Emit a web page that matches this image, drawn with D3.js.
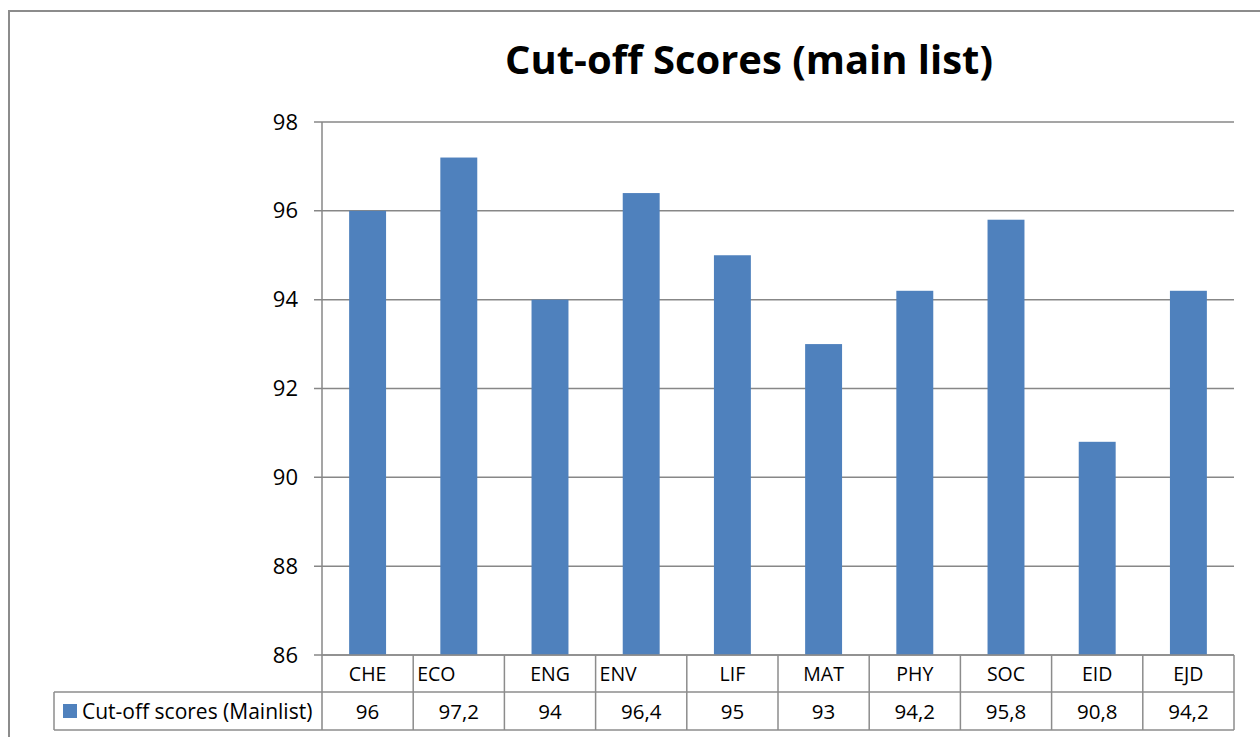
<!DOCTYPE html>
<html>
<head>
<meta charset="utf-8">
<script src="https://cdn.jsdelivr.net/npm/d3@7"></script>
<style>
  html, body { margin: 0; padding: 0; background: #fff; }
  svg { display: block; }
  text { font-family: "Open Sans", "DejaVu Sans", sans-serif; fill: #000; }
</style>
</head>
<body>
<svg id="chart" width="1260" height="737"></svg>
<script>
const categories = ["CHE", "ECO", "ENG", "ENV", "LIF", "MAT", "PHY", "SOC", "EID", "EJD"];
const values = [96, 97.2, 94, 96.4, 95, 93, 94.2, 95.8, 90.8, 94.2];
const valueLabels = ["96", "97,2", "94", "96,4", "95", "93", "94,2", "95,8", "90,8", "94,2"];
const yTicks = [86, 88, 90, 92, 94, 96, 98];
const seriesName = "Cut-off scores (Mainlist)";
const titleText = "Cut-off Scores (main list)";
const leftAlignedLabels = ["ECO", "ENV"];

const svg = d3.select("#chart");
const gridColor = "#878787";
const borderColor = "#8c8c8c";
const barColor = "#4F81BD";

const plotLeft = 322, plotRight = 1234, plotTop = 122, plotBottom = 655;
const row1Bottom = 692, row2Bottom = 730, tableLeft = 54;

const x = d3.scaleBand().domain(categories).range([plotLeft, plotRight]).padding(0);
const y = d3.scaleLinear().domain([86, 98]).range([plotBottom, plotTop]);

// outer chart border
svg.append("path")
  .attr("d", `M9,737 L9,11 L1260,11`)
  .attr("fill", "none").attr("stroke", borderColor).attr("stroke-width", 2);

// title
const title = svg.append("text")
  .attr("x", 749).attr("y", 74)
  .attr("text-anchor", "middle")
  .attr("font-weight", "bold")
  .attr("font-size", 40)
  .text(titleText);
{
  const w = title.node().getComputedTextLength();
  title.attr("font-size", 40 * 488 / w);
}

// gridlines
svg.append("g").selectAll("line").data(yTicks).join("line")
  .attr("x1", plotLeft - 8).attr("x2", plotRight)
  .attr("y1", d => y(d)).attr("y2", d => y(d))
  .attr("stroke", gridColor).attr("stroke-width", 1.5);

// y axis labels
const yAxis = d3.axisLeft(y).tickValues(yTicks).tickSize(0).tickPadding(24).tickFormat(d3.format("d"));
const ya = svg.append("g").attr("transform", `translate(${plotLeft},0)`).call(yAxis);
ya.select(".domain").remove();
ya.selectAll("text").attr("font-size", 22).attr("font-family", "'Open Sans', sans-serif").attr("fill", "#000");

// bars
const barW = x.bandwidth() * 0.405;
svg.append("g").selectAll("rect").data(categories).join("rect")
  .attr("x", (d) => x(d) + (x.bandwidth() - barW) / 2)
  .attr("width", barW)
  .attr("y", (d, i) => y(values[i]))
  .attr("height", (d, i) => y(86) - y(values[i]))
  .attr("fill", barColor);

// axis line (vertical) through table
svg.append("line")
  .attr("x1", plotLeft).attr("x2", plotLeft)
  .attr("y1", plotTop).attr("y2", row2Bottom)
  .attr("stroke", gridColor).attr("stroke-width", 1.5);

// table lines
const tbl = svg.append("g").attr("stroke", borderColor).attr("stroke-width", 1.5);
tbl.append("line").attr("x1", plotLeft).attr("x2", plotRight).attr("y1", plotBottom).attr("y2", plotBottom);
tbl.append("line").attr("x1", tableLeft).attr("x2", plotRight).attr("y1", row1Bottom).attr("y2", row1Bottom);
tbl.append("line").attr("x1", tableLeft).attr("x2", plotRight).attr("y1", row2Bottom).attr("y2", row2Bottom);
tbl.append("line").attr("x1", tableLeft).attr("x2", tableLeft).attr("y1", row1Bottom).attr("y2", row2Bottom);
tbl.selectAll("line.v").data(categories).join("line").attr("class", "v")
  .attr("x1", d => x(d) + x.bandwidth()).attr("x2", d => x(d) + x.bandwidth())
  .attr("y1", plotBottom).attr("y2", row2Bottom);

// category labels
svg.append("g").selectAll("text").data(categories).join("text")
  .attr("x", d => leftAlignedLabels.includes(d) ? x(d) + 4 : x(d) + x.bandwidth() / 2)
  .attr("text-anchor", d => leftAlignedLabels.includes(d) ? "start" : "middle")
  .attr("y", 681)
  .attr("font-size", 19.5)
  .text(d => d);

// value labels
svg.append("g").selectAll("text").data(categories).join("text")
  .attr("x", d => x(d) + x.bandwidth() / 2)
  .attr("text-anchor", "middle")
  .attr("y", 718.5)
  .attr("font-size", 20.5)
  .text((d, i) => valueLabels[i]);

// legend key
svg.append("rect").attr("x", 63).attr("y", 704).attr("width", 14).attr("height", 14).attr("fill", barColor);
const lt = svg.append("text").attr("x", 82).attr("y", 718.5).attr("font-size", 20).text(seriesName);
{
  const w = lt.node().getComputedTextLength();
  lt.attr("font-size", Math.min(21, 20 * 231 / w));
}
</script>
</body>
</html>
